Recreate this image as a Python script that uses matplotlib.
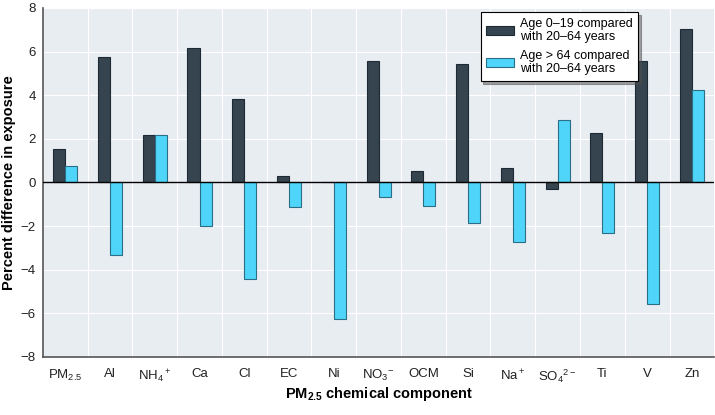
import matplotlib
matplotlib.use("Agg")
import matplotlib.pyplot as plt
import numpy as np

# component labels and percent differences
components = ["PM$_{2.5}$", "Al", "NH$_4$$^+$", "Ca", "Cl", "EC", "Ni", "NO$_3$$^{-}$",
              "OCM", "Si", "Na$^+$", "SO$_4$$^{2-}$", "Ti", "V", "Zn"]
young_vs_adult = [1.52, 5.75, 2.16, 6.16, 3.82, 0.30, 0.0, 5.58,
                  0.52, 5.45, 0.66, -0.32, 2.27, 5.56, 7.03]
old_vs_adult = [0.75, -3.31, 2.16, -2.01, -4.45, -1.15, -6.25, -0.66,
                -1.09, -1.84, -2.71, 2.85, -2.30, -5.56, 4.24]
series_labels = ["Age 0\u201319 compared\nwith 20\u201364 years",
                 "Age > 64 compared\nwith 20\u201364 years"]
yticks = [-8, -6, -4, -2, 0, 2, 4, 6, 8]

plt.rcParams['font.family'] = ['Liberation Sans', 'DejaVu Sans']
plt.rcParams['mathtext.default'] = 'regular'

fig = plt.figure(figsize=(7.15, 4.15), dpi=100)
ax = fig.add_axes([0.060, 0.140, 0.939, 0.841])
ax.set_facecolor('#e8edf2')

x = np.arange(len(components))
w = 0.27
ax.bar(x - w / 2, young_vs_adult, width=w, color='#36444f', edgecolor='#1e2a33',
       linewidth=0.8, label=series_labels[0], zorder=3)
ax.bar(x + w / 2, old_vs_adult, width=w, color='#50d5fa', edgecolor='#2b6f86',
       linewidth=0.8, label=series_labels[1], zorder=3)

ax.axhline(0, color='black', linewidth=1.0, zorder=4)

ax.set_xlim(-0.5, len(components) - 0.5)
ax.set_ylim(-8, 8)
ax.set_yticks(yticks)
ax.set_yticklabels([str(t).replace('-', '\u2212') for t in yticks])
ax.set_xticks(x)
ax.set_xticklabels(components)
ax.set_xticks(np.arange(len(components) + 1) - 0.5, minor=True)
ax.grid(which='minor', axis='x', color='white', linewidth=0.8, zorder=0)
ax.grid(which='major', axis='y', color='white', linewidth=0.8, zorder=0)
ax.tick_params(axis='both', which='both', length=0, labelsize=9.5, colors='#222222')
ax.tick_params(axis='x', pad=8)
ax.tick_params(axis='y', pad=5)

for s in ['top', 'right']:
    ax.spines[s].set_visible(False)
ax.spines['left'].set_color('#555555')
ax.spines['bottom'].set_color('#555555')
ax.spines['left'].set_linewidth(1.2)
ax.spines['bottom'].set_linewidth(1.2)

ax.set_ylabel('Percent difference in exposure', fontsize=10.5, fontweight='bold')
ax.yaxis.set_label_coords(-0.040, 0.5)
ax.set_xlabel('PM$_{2.5}$ chemical component', fontsize=10.5, fontweight='bold')
ax.xaxis.set_label_coords(0.5, -0.08)

leg = ax.legend(loc='upper left', bbox_to_anchor=(0.652, 0.9885), fontsize=9,
                frameon=True, fancybox=False, shadow=True, edgecolor='black',
                handlelength=2.2, handleheight=0.7, labelspacing=0.5,
                borderpad=0.45, handletextpad=0.5, borderaxespad=0)
leg.get_frame().set_linewidth(0.8)
leg.set_zorder(5)

fig.savefig('out.png', dpi=100)
